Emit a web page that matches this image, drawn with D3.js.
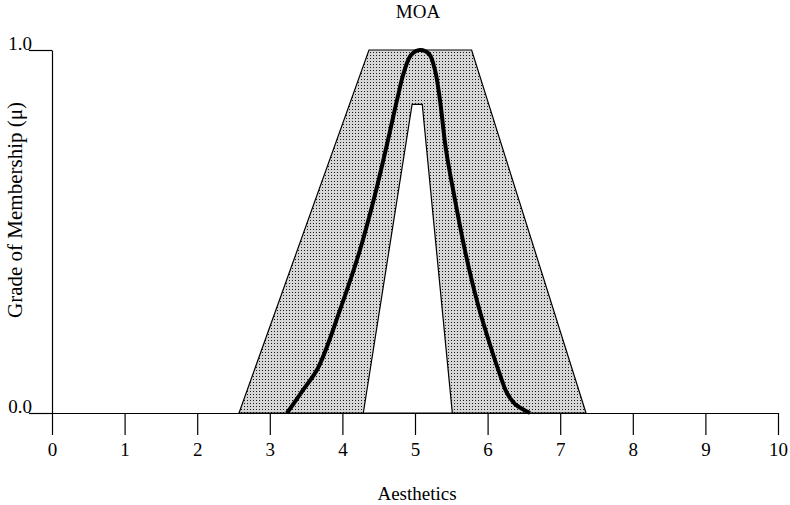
<!DOCTYPE html>
<html>
<head>
<meta charset="utf-8">
<script src="https://cdn.jsdelivr.net/npm/d3@7"></script>
<style>
  body { margin: 0; background: #fff; }
  text { font-family: "Liberation Serif", "Times New Roman", serif; fill: #000; }
</style>
</head>
<body>
<svg id="chart" width="790" height="505"></svg>
<script>
// Axis ticks
const xTicks = [0, 1, 2, 3, 4, 5, 6, 7, 8, 9, 10];
const yTicks = [0, 1];

// Outer footprint of the uncertainty band (x, membership)
const outerBand = [[2.576, 0], [4.366, 1], [5.78, 1], [7.355, 0]];
// Inner gap cut out of the band
const innerGap = [[4.288, 0], [4.96, 0.85], [5.10, 0.85], [5.514, 0]];

// MOA membership curve
const moaX  = [3.237, 3.457, 3.664, 3.967, 4.242, 4.449, 4.628, 4.752, 4.848, 4.945, 5.069,
               5.193, 5.275, 5.344, 5.427, 5.551, 5.702, 5.868, 6.033, 6.171, 6.267, 6.377, 6.584];
const moaMu = [0,     0.063, 0.124, 0.284, 0.449, 0.601, 0.752, 0.862, 0.939, 0.986, 1.0,
               0.989, 0.945, 0.862, 0.725, 0.587, 0.435, 0.298, 0.188, 0.105, 0.055, 0.025, 0];

const svg = d3.select("#chart");
const plotLeft = 52, plotRight = 778, plotTop = 50, plotBottom = 413;

const x = d3.scaleLinear().domain([0, 10]).range([plotLeft, plotRight]);
const y = d3.scaleLinear().domain([0, 1]).range([plotBottom, plotTop]);

// Stipple fill
const defs = svg.append("defs");
const pat = defs.append("pattern")
  .attr("id", "stipple").attr("patternUnits", "userSpaceOnUse")
  .attr("width", 3).attr("height", 3);
pat.append("rect").attr("width", 3).attr("height", 3).attr("fill", "#d6d6d6");
pat.append("rect").attr("x", 1).attr("y", 1).attr("width", 1).attr("height", 1).attr("fill", "#1a1a1a");

// Band with the inner gap removed
const poly = pts => "M" + pts.map(p => x(p[0]) + "," + y(p[1])).join("L") + "Z";
svg.append("path")
  .attr("d", poly(outerBand) + poly(innerGap))
  .attr("fill", "url(#stipple)")
  .attr("fill-rule", "evenodd")
  .attr("stroke", "#000")
  .attr("stroke-width", 1.2)
  .attr("stroke-linejoin", "miter");

// Axes
const xAxis = svg.append("g")
  .attr("transform", `translate(0,${plotBottom})`)
  .call(d3.axisBottom(x).tickValues(xTicks).tickSize(22).tickSizeOuter(0).tickFormat(d3.format("d")));
xAxis.selectAll("text").attr("y", 43).attr("dy", 0).style("font-size", "19px");

const yAxis = svg.append("g")
  .attr("transform", `translate(${plotLeft},0)`)
  .call(d3.axisLeft(y).tickValues(yTicks).tickSize(23).tickSizeOuter(0).tickFormat(d3.format(".1f")));
yAxis.selectAll("text").attr("x", -20).attr("dy", -1).attr("text-anchor", "end").style("font-size", "19px");

svg.selectAll(".domain, .tick line").attr("stroke", "#000").attr("stroke-width", 1.2);
svg.selectAll(".tick text").attr("font-family", null);

// Curve
const line = d3.line()
  .x((d, i) => x(moaX[i]))
  .y(d => y(d))
  .curve(d3.curveCatmullRom.alpha(0.5));
svg.append("path")
  .attr("d", line(moaMu))
  .attr("fill", "none")
  .attr("stroke", "#000")
  .attr("stroke-width", 4)
  .attr("stroke-linecap", "butt");

// Titles
svg.append("text").attr("x", 418).attr("y", 18).attr("text-anchor", "middle")
  .style("font-size", "19px").text("MOA");
svg.append("text").attr("x", 417).attr("y", 500).attr("text-anchor", "middle")
  .style("font-size", "19px").text("Aesthetics");
svg.append("text").attr("transform", "translate(22,210) rotate(-90)")
  .attr("text-anchor", "middle").style("font-size", "21px").text("Grade of Membership (μ)");
</script>
</body>
</html>
